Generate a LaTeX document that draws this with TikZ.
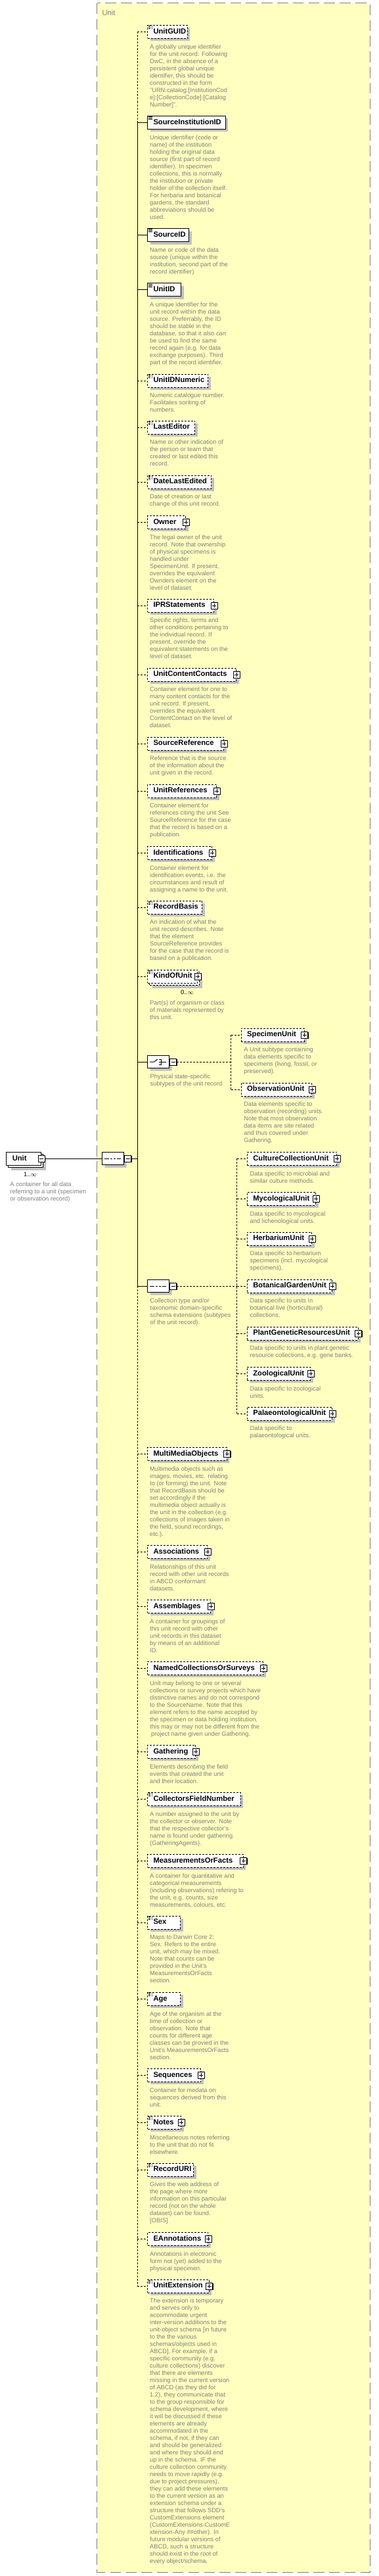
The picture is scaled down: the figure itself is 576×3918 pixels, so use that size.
\documentclass[tikz,border=0pt]{standalone}
\usepackage{fontspec}
\setmainfont{Liberation Sans}
\usetikzlibrary{positioning,shadows,shapes.misc}
\definecolor{schemabg}{RGB}{255,255,192}
\definecolor{framegray}{RGB}{128,128,128}
\definecolor{descgray}{RGB}{128,128,128}
\definecolor{shadowgray}{RGB}{192,192,192}
\tikzset{
  elem/.style={draw, fill=white, line width=1pt, anchor=west, minimum height=20pt,
    minimum width=#1pt, text width=#1pt-18pt, inner xsep=9pt, inner ysep=0pt, align=left,
    text height=8.2pt, text depth=2.3pt, font=\fontsize{11.2}{13}\selectfont\bfseries,
    drop shadow={shadow xshift=4pt, shadow yshift=-4pt, fill=shadowgray, opacity=1}},
  opt/.style={dash pattern=on 3pt off 2pt},
  multi/.style={drop shadow={shadow xshift=7.5pt, shadow yshift=-7.5pt, fill=shadowgray, opacity=1},
    copy shadow={shadow xshift=3pt, shadow yshift=-3pt}},
  simple/.style={path picture={
    \draw[line width=.8pt] ([shift={(1pt,-1.2pt)}]path picture bounding box.north west) -- +(6.5pt,0pt);
    \draw[line width=.8pt] ([shift={(1pt,-3.2pt)}]path picture bounding box.north west) -- +(6.5pt,0pt);
    \draw[line width=.8pt] ([shift={(1pt,-5.2pt)}]path picture bounding box.north west) -- +(6.5pt,0pt);}},
  plusbox/.style={draw, fill=white, line width=1pt, minimum size=10pt, inner sep=0pt,
    drop shadow={shadow xshift=1pt, shadow yshift=-1pt, fill=black, opacity=1},
    path picture={
    \draw[line width=1pt] ([xshift=2pt]path picture bounding box.west) -- ([xshift=-2pt]path picture bounding box.east);
    \draw[line width=1pt] ([yshift=2pt]path picture bounding box.south) -- ([yshift=-2pt]path picture bounding box.north);}},
  minusbox/.style={draw, fill=white, line width=1pt, minimum size=10pt, inner sep=0pt,
    drop shadow={shadow xshift=1pt, shadow yshift=-1pt, fill=black, opacity=1},
    path picture={
    \draw[line width=1pt] ([xshift=2pt]path picture bounding box.west) -- ([xshift=-2pt]path picture bounding box.east);}},
  compo/.style={chamfered rectangle, chamfered rectangle sep=5pt, draw, fill=white, line width=1pt,
    minimum width=33pt, minimum height=19pt, inner sep=0pt, anchor=west,
    drop shadow={shadow xshift=4pt, shadow yshift=-4pt, fill=shadowgray, opacity=1}},
  seqsym/.style={path picture={
    \coordinate (pc) at (path picture bounding box.center);
    \draw[line width=1pt] ([xshift=-13pt]pc) -- ([xshift=12pt]pc);
    \fill ([shift={(-6.3pt,-1.3pt)}]pc) rectangle +(2.6pt,2.6pt);
    \fill ([shift={(-1.3pt,-1.3pt)}]pc) rectangle +(2.6pt,2.6pt);
    \fill ([shift={(3.7pt,-1.3pt)}]pc) rectangle +(2.6pt,2.6pt);}},
  choicesym/.style={path picture={
    \coordinate (pc) at (path picture bounding box.center);
    \draw[line width=1pt] ([xshift=-13pt]pc) -- ([xshift=-6.5pt]pc) -- ([shift={(0.5pt,5pt)}]pc);
    \fill ([shift={(-1.5pt,2.8pt)}]pc) rectangle +(2.4pt,2.4pt);
    \fill ([shift={(-1.5pt,-1.2pt)}]pc) rectangle +(2.4pt,2.4pt);
    \fill ([shift={(-1.5pt,-5.2pt)}]pc) rectangle +(2.4pt,2.4pt);
    \draw[line width=1pt] ([shift={(1pt,4pt)}]pc) -- ([shift={(4pt,4pt)}]pc) -- ([shift={(4pt,-4pt)}]pc) -- ([shift={(1pt,-4pt)}]pc);
    \draw[line width=1pt] ([shift={(1pt,0pt)}]pc) -- ([shift={(12pt,0pt)}]pc);}},
  desc/.style={anchor=north west, inner sep=0pt, align=left, text=descgray,
    font=\fontsize{9.3}{11}\selectfont, execute at begin node=\rule{0pt}{7pt}},
  occ/.style={inner sep=0pt, font=\fontsize{9.3}{11}\selectfont},
  conn/.style={line width=1pt}
}

\begin{document}
\begin{tikzpicture}[x=1pt,y=1pt]
	\tikzstyle{every node}+=[inner sep=0pt]
	\useasboundingbox (0,0) rectangle (576,-3918);
	\draw[framegray, line width=1pt, fill=schemabg, dash pattern=on 16.5pt off 7.3pt] (147.7,-5) rectangle (563,-3912);
	\node[anchor=west, text=framegray, font=\fontsize{11.2}{13}\selectfont] (framelabel) at (155.4,-19) {Unit};
	\node[elem=53, multi] (unit) at (9.3,-1762.3) {Unit};
	\node[minusbox] (unitm) at (unit.east) {};
	\node[occ] (unitocc) at (46,-1786) {1..$\infty$};
	\node[desc, below right=25pt and 6pt of unit.south west] (unitdesc) {A container for all data\\referring to a unit (specimen\\or observation record)};
	\node[compo, seqsym] (seqmain) at (155,-1762.3) {};
	\node[minusbox, right=0pt of seqmain] (seqmainm) {};
	\coordinate (spine) at (209,-1762.3);
	\node[elem=60.5, opt, simple] (guid) at (224,-48.5) {UnitGUID};
	\node[desc, below right=8.3pt and 4pt of guid.south west] (guiddesc) {A globally unique identifier\\for the unit record. Following\\DwC, in the absence of a\\persistent global unique\\identifier, this should be\\constructed in the form\\"URN:catalog:[InstitutionCod\\e]:[CollectionCode]:[Catalog\\Number]".};
	\node[elem=118.6, simple] (srcinst) at (224,-186.3) {SourceInstitutionID};
	\node[desc, below right=8.3pt and 4pt of srcinst.south west] (srcinstdesc) {Unique identifier (code or\\name) of the institution\\holding the original data\\source (first part of record\\identifier). In specimen\\collections, this is normally\\the institution or private\\holder of the collection itself.\\For herbaria and botanical\\gardens, the standard\\abbreviations should be\\used.};
	\node[elem=63, simple] (srcid) at (224,-357.5) {SourceID};
	\node[desc, below right=8.3pt and 4pt of srcid.south west] (srciddesc) {Name or code of the data\\source (unique within the\\institution, second part of the\\record identifier)};
	\node[elem=51.4, simple] (unitid) at (224,-440.7) {UnitID};
	\node[desc, below right=8.3pt and 4pt of unitid.south west] (unitiddesc) {A unique identifier for the\\unit record within the data\\source. Preferrably, the ID\\should be stable in the\\database, so that it also can\\be used to find the same\\record again (e.g. for data\\exchange purposes). Third\\part of the record identifier.};
	\node[elem=92.3, opt, simple] (idnum) at (224,-579) {UnitIDNumeric};
	\node[desc, below right=8.3pt and 4pt of idnum.south west] (idnumdesc) {Numeric catalogue number.\\Facilitates soriting of\\numbers.};
	\node[elem=72.3, opt, simple] (editor) at (224,-650) {LastEditor};
	\node[desc, below right=8.3pt and 4pt of editor.south west] (editordesc) {Name or other indication of\\the person or team that\\created or last edited this\\record.};
	\node[elem=97.3, opt, simple] (lastedit) at (224,-733) {DateLastEdited};
	\node[desc, below right=8.3pt and 4pt of lastedit.south west] (lasteditdesc) {Date of creation or last\\change of this unit record.};
	\node[elem=58.3, opt] (owner) at (224,-794.3) {Owner};
	\node[plusbox] (ownerp) at (owner.east) {};
	\node[desc, below right=8.3pt and 4pt of owner.south west] (ownerdesc) {The legal owner of the unit\\record. Note that ownership\\of physical specimens is\\handled under\\SpecimenUnit. If present,\\overrides the equivalent\\Ownders element on the\\level of dataset.};
	\node[elem=101, opt] (ipr) at (224,-921) {IPRStatements};
	\node[plusbox] (iprp) at (ipr.east) {};
	\node[desc, below right=8.3pt and 4pt of ipr.south west] (iprdesc) {Specific rights, terms and\\other conditions pertaining to\\the individual record. If\\present, override the\\equivalent statements on the\\level of dataset.};
	\node[elem=135, opt] (contacts) at (224,-1026) {UnitContentContacts};
	\node[plusbox] (contactsp) at (contacts.east) {};
	\node[desc, below right=8.3pt and 4pt of contacts.south west] (contactsdesc) {Container element for one to\\many content contacts for the\\unit record. If present,\\overrides the equivalent\\ContentContact on the level of\\dataset.};
	\node[elem=116, opt] (srcref) at (224,-1131) {SourceReference};
	\node[plusbox] (srcrefp) at (srcref.east) {};
	\node[desc, below right=8.3pt and 4pt of srcref.south west] (srcrefdesc) {Reference that is the source\\of the information about the\\unit given in the record.};
	\node[elem=105, opt] (unitref) at (224,-1203) {UnitReferences};
	\node[plusbox] (unitrefp) at (unitref.east) {};
	\node[desc, below right=8.3pt and 4pt of unitref.south west] (unitrefdesc) {Container element for\\references citing the unit See\\SourceReference for the case\\that the record is based on a\\publication.};
	\node[elem=98, opt] (ident) at (224,-1297.3) {Identifications};
	\node[plusbox] (identp) at (ident.east) {};
	\node[desc, below right=8.3pt and 4pt of ident.south west] (identdesc) {Container element for\\identification events, i.e. the\\circumstances and result of\\assigning a name to the unit.};
	\node[elem=83.4, opt, simple] (basis) at (224,-1380) {RecordBasis};
	\node[desc, below right=8.3pt and 4pt of basis.south west] (basisdesc) {An indication of what the\\unit record describes. Note\\that the element\\SourceReference provides\\for the case that the record is\\based on a publication.};
	\node[elem=76, opt, simple, multi] (kind) at (224,-1485) {KindOfUnit};
	\node[plusbox] (kindp) at (kind.east) {};
	\node[occ] (kindocc) at (285,-1509) {0..$\infty$};
	\node[desc, below right=25.7pt and 4pt of kind.south west] (kinddesc) {Part(s) of organism or class\\of materials represented by\\this unit.};
	\node[compo, choicesym] (choice) at (224,-1615) {};
	\node[minusbox, right=0pt of choice] (choicem) {};
	\node[desc, below right=9.2pt and 4pt of choice.south west] (choicedesc) {Physical state-specific\\subtypes of the unit record};
	\coordinate (choicebar) at (351.7,-1615);
	\node[elem=95.8, opt] (specimen) at (366.7,-1574) {SpecimenUnit};
	\node[plusbox] (specimenp) at (specimen.east) {};
	\node[desc, below right=8.3pt and 4.5pt of specimen.south west] (specimendesc) {A Unit subtype containing\\data elements specific to\\specimens (living, fossil, or\\preserved).};
	\node[elem=107.5, opt] (observation) at (366.7,-1657) {ObservationUnit};
	\node[plusbox] (observationp) at (observation.east) {};
	\node[desc, below right=8.3pt and 4.5pt of observation.south west] (observationdesc) {Data elements specific to\\observation (recording) units.\\Note that most observation\\data items are site related\\and thus covered under\\Gathering.};
	\node[compo, seqsym] (seqb) at (224,-1956) {};
	\node[minusbox, right=0pt of seqb] (seqbm) {};
	\node[desc, below right=9.2pt and 4pt of seqb.south west] (seqbdesc) {Collection type and/or\\taxonomic domain-specific\\schema extensions (subtypes\\of the unit record).};
	\coordinate (seqbbar) at (360.9,-1956);
	\node[elem=136.1, opt] (culture) at (375.9,-1762.3) {CultureCollectionUnit};
	\node[plusbox] (culturep) at (culture.east) {};
	\node[desc, below right=8.3pt and 4.5pt of culture.south west] (culturedesc) {Data specific to microbial and\\similar culture methods.};
	\node[elem=104.1, opt] (myco) at (375.9,-1823.3) {MycologicalUnit};
	\node[plusbox] (mycop) at (myco.east) {};
	\node[desc, below right=8.3pt and 4.5pt of myco.south west] (mycodesc) {Data specific to mycological\\and lichenological units.};
	\node[elem=98.3, opt] (herb) at (375.9,-1884) {HerbariumUnit};
	\node[plusbox] (herbp) at (herb.east) {};
	\node[desc, below right=8.3pt and 4.5pt of herb.south west] (herbdesc) {Data specific to herbarium\\specimens (incl. mycological\\specimens).};
	\node[elem=129.4, opt] (botan) at (375.9,-1956) {BotanicalGardenUnit};
	\node[plusbox] (botanp) at (botan.east) {};
	\node[desc, below right=8.3pt and 4.5pt of botan.south west] (botandesc) {Data specific to units in\\botanical live (horticultural)\\collections.};
	\node[elem=168.9, opt] (pgr) at (375.9,-2028) {PlantGeneticResourcesUnit};
	\node[plusbox] (pgrp) at (pgr.east) {};
	\node[desc, below right=8.3pt and 4.5pt of pgr.south west] (pgrdesc) {Data specific to units in plant genetic\\resource collections, e.g. gene banks.};
	\node[elem=96.5, opt] (zoo) at (375.9,-2089.3) {ZoologicalUnit};
	\node[plusbox] (zoop) at (zoo.east) {};
	\node[desc, below right=8.3pt and 4.5pt of zoo.south west] (zoodesc) {Data specific to zoological\\units.};
	\node[elem=129.4, opt] (palaeo) at (375.9,-2150) {PalaeontologicalUnit};
	\node[plusbox] (palaeop) at (palaeo.east) {};
	\node[desc, below right=8.3pt and 4.5pt of palaeo.south west] (palaeodesc) {Data specific to\\palaeontological units.};
	\node[elem=120.8, opt] (media) at (224,-2211.3) {MultiMediaObjects};
	\node[plusbox] (mediap) at (media.east) {};
	\node[desc, below right=8.3pt and 4pt of media.south west] (mediadesc) {Multimedia objects such as\\images, movies, etc. relating\\to (or forming) the unit. Note\\that RecordBasis should be\\set accordingly if the\\multimedia object actually is\\the unit in the collection (e.g.\\collections of images taken in\\the field, sound recordings,\\etc.).};
	\node[elem=91.2, opt] (assoc) at (224,-2360.3) {Associations};
	\node[plusbox] (assocp) at (assoc.east) {};
	\node[desc, below right=8.3pt and 4pt of assoc.south west] (assocdesc) {Relationships of this unit\\record with other unit records\\in ABCD conformant\\datasets.};
	\node[elem=96, opt] (assem) at (224,-2443.3) {Assemblages};
	\node[plusbox] (assemp) at (assem.east) {};
	\node[desc, below right=8.3pt and 4pt of assem.south west] (assemdesc) {A container for groupings of\\this unit record with other\\unit records in this dataset\\by means of an additional\\ID.};
	\node[elem=176.4, opt] (named) at (224,-2537.3) {NamedCollectionsOrSurveys};
	\node[plusbox] (namedp) at (named.east) {};
	\node[desc, below right=8.3pt and 4pt of named.south west] (nameddesc) {Unit may belong to one or several\\collections or survey projects which have\\distinctive names and do not correspond\\to the SourceName. Note that this\\element refers to the name accepted by\\the specimen or data holding institution,\\this may or may not be different from the\\\hspace{2pt}project name given under Gathering.};
	\node[elem=73, opt] (gathering) at (224,-2664.3) {Gathering};
	\node[plusbox] (gatheringp) at (gathering.east) {};
	\node[desc, below right=8.3pt and 4pt of gathering.south west] (gatheringdesc) {Elements describing the field\\events that created the unit\\and their location.};
	\node[elem=141.6, opt, simple] (fieldno) at (224,-2736.3) {CollectorsFieldNumber};
	\node[desc, below right=8.3pt and 4pt of fieldno.south west] (fieldnodesc) {A number assigned to the unit by\\the collector or observer. Note\\that the respective collector's\\name is found under gathering\\(GatheringAgents).};
	\node[elem=145.7, opt] (mof) at (224,-2830.3) {MeasurementsOrFacts};
	\node[plusbox] (mofp) at (mof.east) {};
	\node[desc, below right=8.3pt and 4pt of mof.south west] (mofdesc) {A container for quantitative and\\categorical measurements\\(including observations) refering to\\the unit, e.g. counts, size\\measurements, colours, etc.};
	\node[elem=50.2, opt, simple] (sex) at (224,-2924) {Sex};
	\node[desc, below right=8.3pt and 4pt of sex.south west] (sexdesc) {Maps to Darwin Core 2:\\Sex. Refers to the entire\\unit, which may be mixed.\\Note that counts can be\\provided in the Unit's\\MeasurementsOrFacts\\section.};
	\node[elem=50.2, opt, simple] (age) at (224,-3040.3) {Age};
	\node[desc, below right=8.3pt and 4pt of age.south west] (agedesc) {Age of the organism at the\\time of collection or\\observation. Note that\\counts for different age\\classes can be provied in the\\Unit's MeasurementsOrFacts\\section.};
	\node[elem=81.3, opt] (seqs) at (224,-3156.3) {Sequences};
	\node[plusbox] (seqsp) at (seqs.east) {};
	\node[desc, below right=8.3pt and 4pt of seqs.south west] (seqsdesc) {Container for medata on\\sequences derived from this\\unit.};
	\node[elem=51.3, opt, simple] (notes) at (224,-3228.3) {Notes};
	\node[plusbox] (notesp) at (notes.east) {};
	\node[desc, below right=8.3pt and 4pt of notes.south west] (notesdesc) {Miscellaneous notes referring\\to the unit that do not fit\\elsewhere.};
	\node[elem=70.3, opt, simple] (uri) at (224,-3300) {RecordURI};
	\node[desc, below right=8.3pt and 4pt of uri.south west] (uridesc) {Gives the web address of\\the page where more\\information on this particular\\record (not on the whole\\dataset) can be found.\\{[OBIS]}};
	\node[elem=92, opt] (eannot) at (224,-3405.3) {EAnnotations};
	\node[plusbox] (eannotp) at (eannot.east) {};
	\node[desc, below right=8.3pt and 4pt of eannot.south west] (eannotdesc) {Annotations in electronic\\form not (yet) added to the\\physical specimen.};
	\node[elem=93.7, opt, simple] (ext) at (224,-3477) {UnitExtension};
	\node[plusbox] (extp) at (ext.east) {};
	\node[desc, below right=8.3pt and 4pt of ext.south west] (extdesc) {The extension is temporary\\and serves only to\\accommodate urgent\\inter-version additions to the\\unit-object schema [in future\\to the the various\\schemas/objects used in\\ABCD]. For example, if a\\specific community (e.g.\\culture collections) discover\\that there are elements\\missing in the current version\\of ABCD (as they did for\\1.2), they communicate that\\to the group responsible for\\schema development, where\\it will be discussed if these\\elements are already\\accommodated in the\\schema, if not, if they can\\and should be generalized\\and where they should end\\up in the schema. IF the\\culture collection community\\needs to move rapidly (e.g.\\due to project pressures),\\they can add these elements\\to the current version as an\\extension schema under a\\structure that follows SDD's\\CustomExtensions element\\(CustomExtensions-CustomE\\xtension-Any \#\#other). In\\future modular versions of\\ABCD, such a structure\\should exist in the root of\\every object/schema.};
	\draw[conn] (unitm.east) -- (seqmain.west);
	\draw[conn] (seqmainm.east) -- (spine);
	\draw[conn, opt] (spine |- guid.west) -- (spine |- srcinst.west);
	\draw[conn] (spine |- srcinst.west) -- (spine |- seqb.west);
	\draw[conn, opt] (spine |- seqb.west) -- (spine |- ext.west);
	\draw[conn, opt] (spine |- guid.west) -- (guid.west);
	\draw[conn] (spine |- srcinst.west) -- (srcinst.west);
	\draw[conn] (spine |- srcid.west) -- (srcid.west);
	\draw[conn] (spine |- unitid.west) -- (unitid.west);
	\draw[conn, opt] (spine |- idnum.west) -- (idnum.west);
	\draw[conn, opt] (spine |- editor.west) -- (editor.west);
	\draw[conn, opt] (spine |- lastedit.west) -- (lastedit.west);
	\draw[conn, opt] (spine |- owner.west) -- (owner.west);
	\draw[conn, opt] (spine |- ipr.west) -- (ipr.west);
	\draw[conn, opt] (spine |- contacts.west) -- (contacts.west);
	\draw[conn, opt] (spine |- srcref.west) -- (srcref.west);
	\draw[conn, opt] (spine |- unitref.west) -- (unitref.west);
	\draw[conn, opt] (spine |- ident.west) -- (ident.west);
	\draw[conn, opt] (spine |- basis.west) -- (basis.west);
	\draw[conn, opt] (spine |- kind.west) -- (kind.west);
	\draw[conn] (spine |- choice.west) -- (choice.west);
	\draw[conn] (spine |- seqb.west) -- (seqb.west);
	\draw[conn, opt] (spine |- media.west) -- (media.west);
	\draw[conn, opt] (spine |- assoc.west) -- (assoc.west);
	\draw[conn, opt] (spine |- assem.west) -- (assem.west);
	\draw[conn, opt] (spine |- named.west) -- (named.west);
	\draw[conn, opt] (spine |- gathering.west) -- (gathering.west);
	\draw[conn, opt] (spine |- fieldno.west) -- (fieldno.west);
	\draw[conn, opt] (spine |- mof.west) -- (mof.west);
	\draw[conn, opt] (spine |- sex.west) -- (sex.west);
	\draw[conn, opt] (spine |- age.west) -- (age.west);
	\draw[conn, opt] (spine |- seqs.west) -- (seqs.west);
	\draw[conn, opt] (spine |- notes.west) -- (notes.west);
	\draw[conn, opt] (spine |- uri.west) -- (uri.west);
	\draw[conn, opt] (spine |- eannot.west) -- (eannot.west);
	\draw[conn, opt] (spine |- ext.west) -- (ext.west);
	\draw[conn, opt] (choicem.east) -- (choicebar);
	\draw[conn, opt] (choicebar |- specimen.west) -- (choicebar |- observation.west);
	\draw[conn, opt] (choicebar |- specimen.west) -- (specimen.west);
	\draw[conn, opt] (choicebar |- observation.west) -- (observation.west);
	\draw[conn, opt] (seqbm.east) -- (seqbbar);
	\draw[conn, opt] (seqbbar |- culture.west) -- (seqbbar |- palaeo.west);
	\draw[conn, opt] (seqbbar |- culture.west) -- (culture.west);
	\draw[conn, opt] (seqbbar |- myco.west) -- (myco.west);
	\draw[conn, opt] (seqbbar |- herb.west) -- (herb.west);
	\draw[conn, opt] (seqbbar |- botan.west) -- (botan.west);
	\draw[conn, opt] (seqbbar |- pgr.west) -- (pgr.west);
	\draw[conn, opt] (seqbbar |- zoo.west) -- (zoo.west);
	\draw[conn, opt] (seqbbar |- palaeo.west) -- (palaeo.west);
\end{tikzpicture}
\end{document}
